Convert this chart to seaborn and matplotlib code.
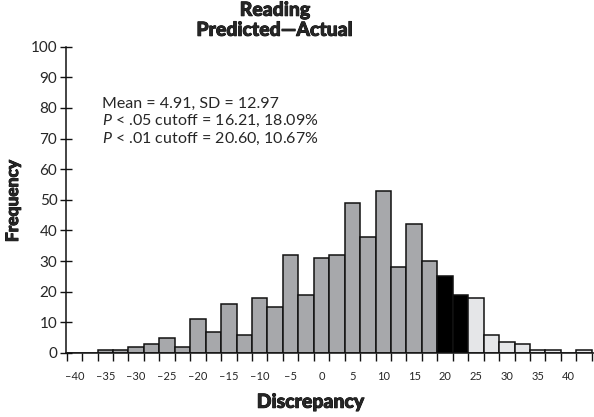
import numpy as np
import pandas as pd
import matplotlib
matplotlib.use("Agg")
import matplotlib.pyplot as plt
import matplotlib.patheffects as pe
import seaborn as sns

# Bin centres (width 2.5) and counts of predicted-minus-actual discrepancies
bin_centers = [-40, -37.5, -35, -32.5, -30, -27.5, -25, -22.5, -20, -17.5,
               -15, -12.5, -10, -7.5, -5, -2.5, 0, 2.5, 5, 7.5,
               10, 12.5, 15, 17.5, 20, 22.5, 25, 27.5, 30, 32.5,
               35, 37.5, 40, 42.5]
counts = [0, 0, 1, 1, 2, 3, 5, 2, 11, 7,
          16, 6, 18, 15, 32, 19, 31, 32, 49, 38,
          53, 28, 42, 30, 25, 19, 18, 6, 3.5, 3,
          1, 1, 0, 1]
# Shading group of each bin
groups = (["within"] * 24 + ["p01"] * 2 + ["tail"] * 8)

tick_labels = [-40, -35, -30, -25, -20, -15, -10, -5, 0, 5, 10, 15, 20, 25, 30, 35, 40]
yticks = list(range(0, 101, 10))

stats_lines = ["Mean = 4.91, SD = 12.97",
               r"$\it{P}$ < .05 cutoff = 16.21, 18.09%",
               r"$\it{P}$ < .01 cutoff = 20.60, 10.67%"]

df = pd.DataFrame({"center": bin_centers, "count": counts, "group": groups})

sns.set_style("white")
plt.rcParams["font.family"] = ["Lato", "DejaVu Sans"]
plt.rcParams["mathtext.fontset"] = "custom"
plt.rcParams["mathtext.it"] = "Lato:italic"
plt.rcParams["mathtext.rm"] = "Lato"

fig = plt.figure(figsize=(5.94, 4.17), dpi=100)
ax = fig.add_axes([0.1106, 0.1535, 0.8894, 0.7345])

palette = {"within": "#a7a8ab", "p01": "#000000", "tail": "#e5e6e8"}
sns.barplot(data=df, x="center", y="count", hue="group", palette=palette,
            native_scale=True, width=1.0, dodge=False, legend=False,
            edgecolor="#111111", linewidth=1.1, saturation=1, ax=ax)

ax.set_xlim(-41.4, 44.1)
ax.set_ylim(0, 100)

# Ticks on bin edges, labels under every other bin centre
edges = np.arange(-41.25, 44, 2.5)
ax.set_xticks(edges)
ax.set_xticklabels([])
ax.set_xticks(tick_labels, minor=True)
ax.set_xticklabels(["\u2013" + str(-v) if v < 0 else str(v) for v in tick_labels],
                   minor=True, fontsize=8)
ax.tick_params(axis="x", which="major", direction="out", length=5.5, width=1.0,
               color="#111111", bottom=True)
ax.tick_params(axis="x", which="minor", length=0, pad=13, bottom=True)

ax.set_yticks(yticks)
ax.set_yticklabels([str(v) for v in yticks], fontsize=11)
ax.tick_params(axis="y", direction="inout", length=8, width=1.0, color="#111111",
               pad=2, left=True)

for side in ["top", "right"]:
    ax.spines[side].set_visible(False)
for side in ["left", "bottom"]:
    ax.spines[side].set_color("#111111")
    ax.spines[side].set_linewidth(1.1)

ax.set_xlabel("")
ax.set_ylabel("")

heavy = [pe.withStroke(linewidth=0.6, foreground="black")]
fig.text(0.463, 0.962, "Reading", ha="center", va="baseline", fontsize=14,
         fontweight="black", path_effects=heavy)
fig.text(0.463, 0.914, "Predicted\u2014Actual", ha="center", va="baseline",
         fontsize=14, fontweight="black", path_effects=heavy)
fig.text(0.523, 0.022, "Discrepancy", ha="center", va="baseline", fontsize=14,
         fontweight="black", path_effects=heavy)
fig.text(0.022, 0.518, "Frequency", ha="center", va="center", rotation=90,
         fontsize=12.5, fontweight="black", path_effects=heavy)

for i, line in enumerate(stats_lines):
    fig.text(0.171, 0.752 - i * 0.043, line, ha="left", va="center", fontsize=11.5)

fig.savefig("out.png", dpi=100)
